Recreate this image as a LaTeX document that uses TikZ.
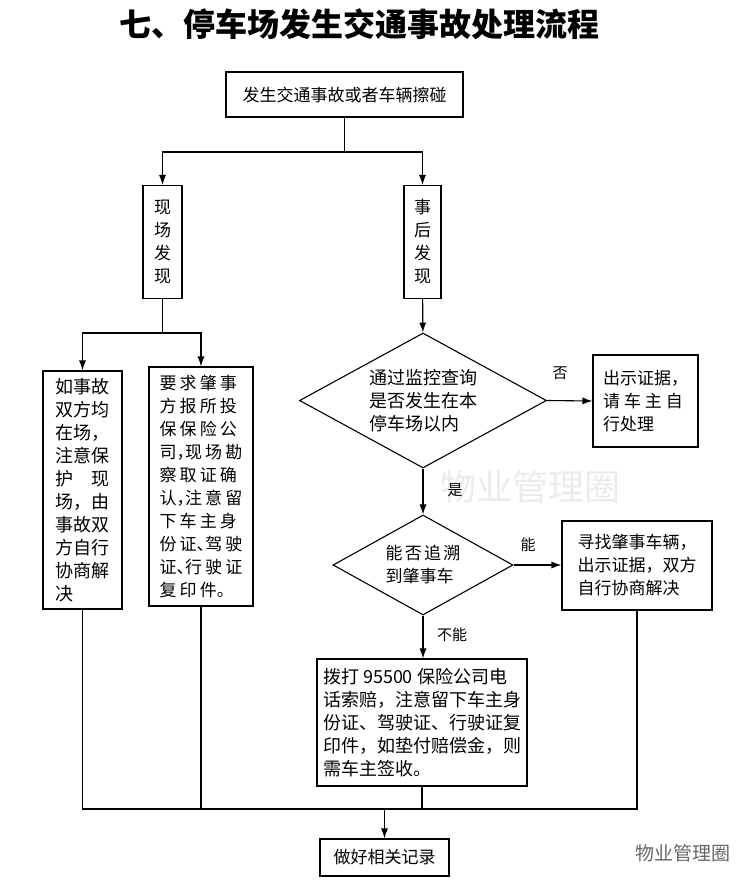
\documentclass[tikz,border=0pt]{standalone}
\usepackage{fontspec}
\setmainfont{Noto Sans CJK SC}
\usetikzlibrary{arrows.meta,shapes.geometric}
\newcommand\hp[1]{\makebox[.5em][l]{#1}}

\begin{document}
\begin{tikzpicture}[x=1pt,y=-1pt,>={Latex[length=10pt,width=7pt]},line width=1.1pt,
  box/.style={draw,inner sep=0pt,align=left,font=\fontsize{17}{23}\selectfont},
  choice/.style={draw,diamond,inner sep=0pt,align=left,font=\fontsize{18}{23}\selectfont},
  lbl/.style={font=\fontsize{15}{18}\selectfont}]
  \useasboundingbox (0,0) rectangle (752,886);
  \node (title) at (359,24) {\fontsize{32}{36}\selectfont\bfseries 七、停车场发生交通事故处理流程};
  \node[text=black!8,font=\fontsize{36}{40}\selectfont] (mark) at (530,487) {物业管理圈};
  \node[text=black!60,font=\fontsize{19}{22}\selectfont] (sign) at (683,853) {物业管理圈};

  \node[box,minimum width=237pt,minimum height=45pt] (start) at (344.5,94.5) {发生交通事故或者车辆擦碰};
  \node[box,align=center,minimum width=39pt,minimum height=113pt] (scene) at (162.5,242) {现\\场\\发\\现};
  \node[box,align=center,minimum width=37pt,minimum height=113pt] (after) at (422.5,242) {事\\后\\发\\现};
  \node[box,font=\fontsize{18}{23}\selectfont,minimum width=79pt,minimum height=238pt] (both) at (82.5,490)
    {如事故\\双方均\\在场，\\注意保\\\makebox[54pt][s]{护\hfill 现}\\场，由\\事故双\\方自行\\协商解\\决};
  \node[box,font=\fontsize{17}{23}\selectfont\addfontfeature{LetterSpace=18},minimum width=104pt,minimum height=239pt] (insure) at (201,486.5)
    {要求肇事\\方报所投\\保保险公\\司\hp{，}现场勘\\察取证确\\认\hp{，}注意留\\下车主身\\份证\hp{、}驾驶\\证\hp{、}行驶证\\复印件\hp{。}};

  \node[choice,aspect=1.83,minimum width=247pt,minimum height=135pt] (watch) at (423,400.5) {通过监控查询\\是否发生在本\\停车场以内};
  \node[box,minimum width=105pt,minimum height=92pt] (show) at (645.5,401)
    {出示证据，\\\makebox[80pt][s]{请\hfill 车\hfill 主\hfill 自}\\行处理};
  \node[choice,aspect=1.8,font=\fontsize{17}{23}\selectfont,minimum width=180pt,minimum height=100pt] (trace) at (423,565)
    {\makebox[75pt][s]{能\hfill 否\hfill 追\hfill 溯}\\到肇事车};
  \node[box,minimum width=150pt,minimum height=89pt] (find) at (637,565.5) {寻找肇事车辆，\\出示证据，双方\\自行协商解决};
  \node[box,font=\fontsize{18}{23}\selectfont,minimum width=210pt,minimum height=127pt] (call) at (422,722.5)
    {拨打 95500 保险公司电\\话索赔，注意留下车主身\\份证、驾驶证、行驶证复\\印件，如垫付赔偿金，则\\需车主签收。};
  \node[box,minimum width=129pt,minimum height=37pt] (record) at (384.5,857.5) {做好相关记录};

  \node[lbl] (no) at (560,373) {否};
  \node[lbl] (yes) at (455,490) {是};
  \node[lbl] (can) at (528,545) {能};
  \node[lbl] (cannot) at (452,635) {不能};

  \coordinate (split) at (start.south |- 0,152);
  \coordinate (fork) at (scene.south |- 0,333);
  \coordinate (left) at (both.south |- 0,809);
  \coordinate (right) at (find.south |- 0,809);

  \draw (start) -- (split);
  \draw[->] (split) -| (scene);
  \draw[->] (split) -| (after);
  \draw (scene) -- (fork);
  \draw[->] (fork) -| (both);
  \draw[->] (fork) -| (insure);
  \draw[->] (after) -- (watch);
  \draw[->] (watch.east) -- (show.west);
  \draw[->] (watch.south) -- (trace.north);
  \draw[->] (trace.east) -- (trace.east -| find.west);
  \draw[->] (trace.south) -- (call.north -| trace.south);
  \draw (both) -- (left) -- (right) -- (find);
  \draw (insure) -- (insure.south |- left);
  \draw (call) -- (call.south |- left);
  \draw[->] (record.north |- left) -- (record);
\end{tikzpicture}
\end{document}
